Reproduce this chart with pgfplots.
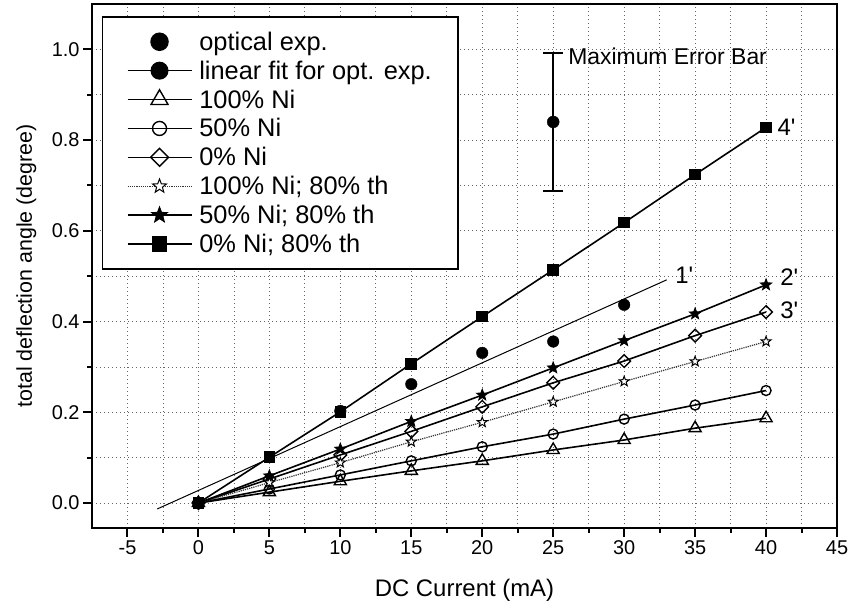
\documentclass[border=0pt]{standalone}
\usepackage{pgfplots}
\pgfplotsset{compat=1.18}
\usepackage{fontspec}
\setmainfont{Liberation Sans}

% five-pointed star, filled with the current fill colour
\pgfdeclareplotmark{fivestar}{%
  \pgfpathmoveto{\pgfpointpolar{90}{\pgfplotmarksize}}%
  \pgfpathlineto{\pgfpointpolar{126}{0.42\pgfplotmarksize}}%
  \pgfpathlineto{\pgfpointpolar{162}{\pgfplotmarksize}}%
  \pgfpathlineto{\pgfpointpolar{198}{0.42\pgfplotmarksize}}%
  \pgfpathlineto{\pgfpointpolar{234}{\pgfplotmarksize}}%
  \pgfpathlineto{\pgfpointpolar{270}{0.42\pgfplotmarksize}}%
  \pgfpathlineto{\pgfpointpolar{306}{\pgfplotmarksize}}%
  \pgfpathlineto{\pgfpointpolar{342}{0.42\pgfplotmarksize}}%
  \pgfpathlineto{\pgfpointpolar{18}{\pgfplotmarksize}}%
  \pgfpathlineto{\pgfpointpolar{54}{0.42\pgfplotmarksize}}%
  \pgfpathclose
  \pgfusepathqfillstroke
}

\begin{document}
\begin{tikzpicture}
\begin{axis}[
  name=ax,
  width=745bp, height=524bp, scale only axis,
  xmin=-7.5, xmax=45, ymin=-0.055, ymax=1.1,
  xtick={-5,0,...,45}, ytick={0,0.2,0.4,0.6,0.8,1.0},
  minor x tick num=1, minor y tick num=1,
  grid=both,
  grid style={dash pattern=on 1bp off 3bp, line width=0.8bp, black!60},
  minor grid style={dash pattern=on 1bp off 3bp, line width=0.8bp, black!60},
  axis line style={line width=2.4bp},
  tick pos=left, tick align=outside,
  major tick length=9bp, minor tick length=5bp,
  every tick/.style={black, line width=2bp},
  /pgf/number format/assume math mode=true,
  ticklabel style={font=\fontsize{20}{22}\selectfont},
  yticklabel style={/pgf/number format/.cd, fixed, fixed zerofill, precision=1},
  xlabel={DC Current (mA)},
  ylabel={total deflection angle (degree)},
  xlabel style={font=\fontsize{24}{26}\selectfont,
    at={(axis description cs:0.5,-0.118)}, anchor=center},
  ylabel style={font=\fontsize{21.5}{24}\selectfont,
    at={(axis description cs:-0.088,0.5)}, anchor=center},
  legend cell align=left,
  legend style={at={(axis description cs:0.0134,0.977)}, anchor=north west,
    draw=black, line width=1.5bp, fill=white,
    font=\fontsize{25.5}{27}\selectfont,
    inner xsep=24bp, inner ysep=13bp, row sep=5bp, column sep=5bp,
    nodes={inner sep=2bp, text depth=0.15em}},
  every axis plot/.append style={
    legend image code/.code={%
      \draw[mark repeat=2, mark phase=2, ##1, every mark/.append style={scale=1.4}]
        plot coordinates {(0bp,0bp) (32bp,0bp) (64bp,0bp)};}},
]

% optical measurement
\addplot[only marks, mark=*, mark size=5.8bp, black,
  legend image code/.code={\draw[draw=none] (0bp,0bp) -- (64bp,0bp);
    \fill[black] (32bp,0bp) circle (8.5bp);}]
  coordinates {(0,0) (10,0.203) (15,0.262) (20,0.331) (25,0.356) (30,0.437)};
\addlegendentry{optical exp.}

% linear fit of the optical data (line 1')
\addplot[black, line width=1bp, mark=none,
  legend image code/.code={\draw[black, line width=1.5bp] (0bp,0bp) -- (64bp,0bp);
    \fill[black] (32bp,0bp) circle (8.5bp);}]
  coordinates {(-2.9,-0.013) (33,0.492)};
\addlegendentry{linear fit for opt. exp.}

% 100% Ni
\addplot[black, line width=1.6bp, mark=triangle, mark size=7bp,
  mark options={fill=white, line width=1.4bp, solid}]
  coordinates {(0,0) (5,0.024) (10,0.048) (15,0.071) (20,0.093) (25,0.117) (30,0.139) (35,0.165) (40,0.187)};
\addlegendentry{100\% Ni}

% 50% Ni
\addplot[black, line width=1.6bp, mark=o, mark size=5bp,
  mark options={fill=white, line width=1.4bp, solid}]
  coordinates {(0,0) (5,0.031) (10,0.062) (15,0.093) (20,0.124) (25,0.152) (30,0.185) (35,0.216) (40,0.248)};
\addlegendentry{50\% Ni}

% 0% Ni
\addplot[black, line width=1.6bp, mark=square, mark size=4.5bp,
  mark options={rotate=45, fill=white, line width=1.4bp, solid}]
  coordinates {(0,0) (5,0.053) (10,0.106) (15,0.158) (20,0.212) (25,0.265) (30,0.313) (35,0.369) (40,0.421)};
\addlegendentry{0\% Ni}

% 100% Ni, 80% thickness
\addplot[black!80, densely dotted, line width=1.2bp, mark=fivestar, mark size=5.2bp,
  mark options={black, fill=white, line width=1bp, solid}]
  coordinates {(0,0) (5,0.045) (10,0.089) (15,0.135) (20,0.178) (25,0.223) (30,0.268) (35,0.312) (40,0.356)};
\addlegendentry{100\% Ni; 80\% th}

% 50% Ni, 80% thickness (line 2')
\addplot[black, line width=1.6bp, mark=fivestar, mark size=6bp,
  mark options={fill=black, line width=0.8bp, solid}]
  coordinates {(0,0) (5,0.060) (10,0.119) (15,0.180) (20,0.238) (25,0.298) (30,0.358) (35,0.417) (40,0.481)};
\addlegendentry{50\% Ni; 80\% th}

% 0% Ni, 80% thickness (line 4')
\addplot[black, line width=1.6bp, mark=square*, mark size=5bp,
  mark options={fill=black, solid}]
  coordinates {(0,0) (5,0.101) (10,0.201) (15,0.307) (20,0.411) (25,0.514) (30,0.618) (35,0.724) (40,0.828)};
\addlegendentry{0\% Ni; 80\% th}

% largest measurement uncertainty
\addplot[forget plot, black, only marks, mark=*, mark size=6bp,
  error bars/.cd, y dir=both, y explicit,
  error bar style={line width=1.6bp, black},
  error mark options={rotate=90, mark size=10bp, line width=1.6bp, black}]
  coordinates {(25,0.84) +- (0,0.152)};

\node[anchor=west, inner sep=0pt, font=\fontsize{23}{25}\selectfont]
  at (axis cs:26.05,0.985) {Maximum Error Bar};

\node[anchor=west, inner sep=0pt, font=\fontsize{24}{26}\selectfont] at (axis cs:33.6,0.503) {1\textquotesingle};
\node[anchor=west, inner sep=0pt, font=\fontsize{24}{26}\selectfont] at (axis cs:41.0,0.497) {2\textquotesingle};
\node[anchor=west, inner sep=0pt, font=\fontsize{24}{26}\selectfont] at (axis cs:41.0,0.426) {3\textquotesingle};
\node[anchor=west, inner sep=0pt, font=\fontsize{24}{26}\selectfont] at (axis cs:40.8,0.828) {4\textquotesingle};
\end{axis}
\pgfresetboundingbox
\path (ax.south west) ++(-92bp,-77bp) rectangle ++(849bp,605bp);
\end{tikzpicture}
\end{document}
